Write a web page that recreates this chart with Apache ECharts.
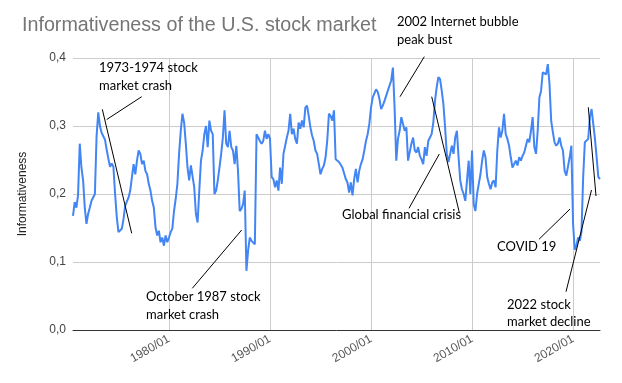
<!DOCTYPE html>
<html><head><meta charset="utf-8">
<script src="https://cdn.jsdelivr.net/npm/echarts@6/dist/echarts.min.js"></script>
<style>html,body{margin:0;padding:0;background:#fff}#c{width:622px;height:383px}</style>
</head><body><div id="c"></div>
<script>
// Sampling: one value every two months, starting July 1970
const startYear = 1970.5;
const stepYears = 1 / 6;

const values1970to1983 = [
  0.168, 0.188, 0.18, 0.198, 0.274, 0.239, 0.22, 0.18, 0.156, 0.171,
  0.18, 0.19, 0.19, 0.2, 0.285, 0.32, 0.3, 0.29, 0.285, 0.28,
  0.265, 0.252, 0.24, 0.245, 0.24, 0.2, 0.166, 0.144, 0.144, 0.149,
  0.163, 0.183, 0.185, 0.195, 0.205, 0.225, 0.244, 0.229, 0.249, 0.264,
  0.259, 0.244, 0.249, 0.234, 0.229, 0.215, 0.205, 0.19, 0.18, 0.151,
  0.139, 0.146, 0.129, 0.136, 0.124, 0.139, 0.129, 0.136, 0.144, 0.149,
  0.175, 0.193, 0.215, 0.259, 0.293, 0.318, 0.305, 0.274, 0.239, 0.22,
  0.242, 0.244, 0.21, 0.171, 0.158, 0.205, 0.249, 0.264, 0.288
];
const values1983to1996 = [
  0.30, 0.269, 0.308, 0.293, 0.288, 0.2, 0.205, 0.22, 0.239, 0.259,
  0.283, 0.323, 0.274, 0.269, 0.293, 0.269, 0.264, 0.244, 0.271, 0.234,
  0.175, 0.178, 0.185, 0.205, 0.087, 0.117, 0.136, 0.131, 0.129, 0.126,
  0.288, 0.288, 0.278, 0.274, 0.278, 0.293, 0.281, 0.288, 0.281, 0.225,
  0.222, 0.21, 0.22, 0.205, 0.239, 0.215, 0.259, 0.271, 0.283, 0.293,
  0.318, 0.288, 0.296, 0.281, 0.274, 0.305, 0.296, 0.308, 0.298, 0.327,
  0.33, 0.315, 0.298, 0.286, 0.278, 0.264, 0.259, 0.244, 0.229, 0.237,
  0.242, 0.254, 0.278, 0.318, 0.315, 0.308, 0.323
];
const values1996to2009 = [
  0.251, 0.251, 0.247, 0.247, 0.239, 0.239, 0.222, 0.217, 0.202, 0.217,
  0.198, 0.222, 0.237, 0.217, 0.234, 0.244, 0.251, 0.264, 0.278, 0.288,
  0.303, 0.327, 0.342, 0.342, 0.354, 0.35, 0.34, 0.325, 0.33, 0.337,
  0.337, 0.352, 0.352, 0.367, 0.386, 0.327, 0.249, 0.281, 0.293, 0.313,
  0.303, 0.293, 0.298, 0.249, 0.249, 0.274, 0.283, 0.264, 0.261, 0.269,
  0.256, 0.251, 0.244, 0.269, 0.256, 0.278, 0.283, 0.288, 0.305, 0.337,
  0.357, 0.372, 0.369, 0.352, 0.332, 0.298, 0.259, 0.247, 0.259, 0.271,
  0.259, 0.283, 0.293, 0.254, 0.22, 0.207, 0.2
];
const values2009to2022 = [
  0.19, 0.22, 0.249, 0.2, 0.264, 0.185, 0.175, 0.2, 0.215, 0.229,
  0.249, 0.264, 0.254, 0.225, 0.215, 0.207, 0.217, 0.22, 0.21, 0.264,
  0.298, 0.283, 0.293, 0.318, 0.288, 0.281, 0.271, 0.254, 0.239, 0.239,
  0.249, 0.242, 0.254, 0.249, 0.256, 0.261, 0.271, 0.281, 0.276, 0.293,
  0.313, 0.269, 0.259, 0.293, 0.342, 0.352, 0.379, 0.381, 0.376, 0.391,
  0.362, 0.308, 0.291, 0.276, 0.271, 0.274, 0.283, 0.271, 0.264, 0.234,
  0.227, 0.227, 0.254, 0.271, 0.156, 0.118, 0.124, 0.136, 0.131, 0.144,
  0.225, 0.276, 0.278, 0.281, 0.313, 0.325, 0.303, 0.281, 0.254, 0.225,
  0.222
];
const tickYears = [1980, 1990, 2000, 2010, 2020];

const allValues = [].concat(values1970to1983, values1983to1996, values1996to2009, values2009to2022);
const seriesData = allValues.map((v, i) => [startYear + i * stepYears, v]);
const endYear = startYear + (allValues.length - 1) * stepYears;

const annFont = '13px Lato';
function txt(s, x, y) {
  return { type: 'text', z: 100, style: { text: s, x: x, y: y, font: annFont, fill: '#000', textVerticalAlign: 'middle' } };
}
function ln(x1, y1, x2, y2) {
  return { type: 'line', z: 100, shape: { x1, y1, x2, y2 }, style: { stroke: '#000', lineWidth: 1 } };
}

const chart = echarts.init(document.getElementById('c'), null, { renderer: 'canvas' });
chart.setOption({
  animation: false,
  backgroundColor: '#fff',
  title: {
    text: 'Informativeness of the U.S. stock market',
    left: 17, top: 11,
    textStyle: { fontFamily: 'Liberation Sans', fontSize: 19.7, fontWeight: 'normal', color: '#757575' }
  },
  grid: { left: 73, right: 22, top: 58, bottom: 53 },
  xAxis: {
    type: 'value', min: startYear, max: endYear,
    axisLine: { show: true, onZero: false, lineStyle: { color: '#333', width: 1 } },
    axisTick: { show: false, customValues: tickYears },
    axisLabel: {
      customValues: tickYears, rotate: 30, margin: 8,
      formatter: v => Math.round(v) + '/01',
      color: '#555', fontFamily: 'Liberation Sans', fontSize: 12
    },
    splitLine: { show: true, lineStyle: { color: '#cccccc', width: 1 } }
  },
  yAxis: {
    type: 'value', min: 0, max: 0.4, interval: 0.1,
    name: 'Informativeness', nameLocation: 'middle', nameGap: 44,
    nameTextStyle: { fontFamily: 'Liberation Sans', fontSize: 12, color: '#222' },
    axisLine: { show: false }, axisTick: { show: false },
    axisLabel: { formatter: v => v.toFixed(1).replace('.', ','), color: '#444', fontFamily: 'Liberation Sans', fontSize: 12, margin: 7 },
    splitLine: { lineStyle: { color: '#cccccc', width: 1 } }
  },
  series: [{
    type: 'line', data: seriesData, showSymbol: false, symbol: 'none',
    lineStyle: { color: '#4285F4', width: 2 }, itemStyle: { color: '#4285F4' }
  }],
  graphic: [
    txt('1973-1974 stock', 99, 68), txt('market crash', 99, 86),
    ln(141.7, 96.7, 106.7, 119.5), ln(102.3, 109.3, 131.7, 233.3),
    txt('October 1987 stock', 146, 297), txt('market crash', 146, 315),
    ln(192.3, 288.3, 241.7, 230),
    txt('2002 Internet bubble', 397, 22), txt('peak bust', 397, 40),
    ln(424.3, 56.7, 400, 96.7),
    txt('Global financial crisis', 342, 215),
    ln(409, 208.3, 439.3, 154), ln(431.7, 96.7, 459.3, 212.5),
    txt('COVID 19', 497, 247),
    ln(539, 239.3, 570, 209),
    txt('2022 stock', 507, 305), txt('market decline', 507, 322),
    ln(566, 291.7, 591.5, 190), ln(588.3, 107.3, 596, 196)
  ]
});
</script></body></html>
